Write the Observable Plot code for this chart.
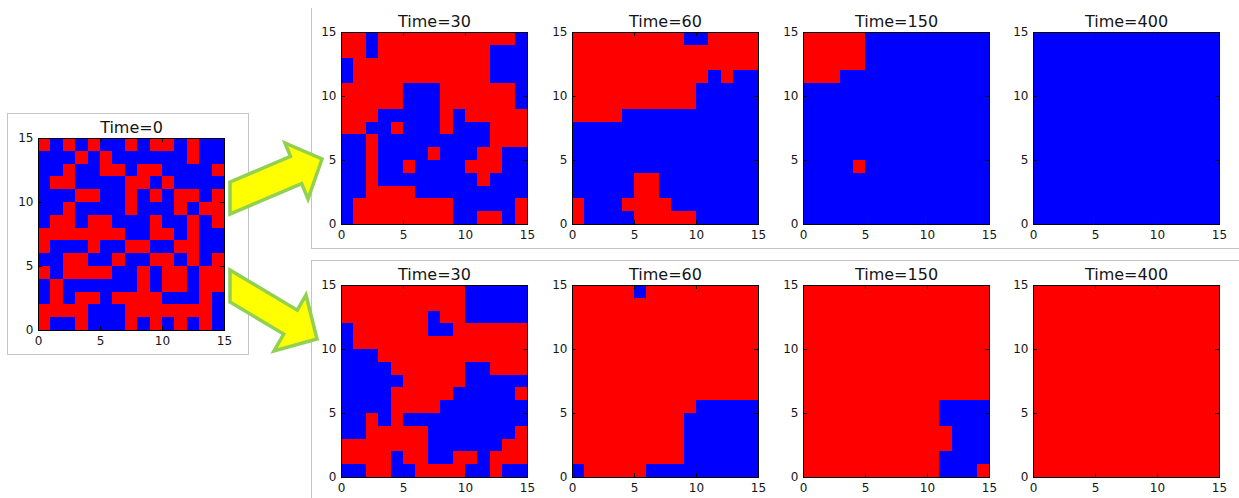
<!DOCTYPE html>
<html>
<head>
<meta charset="utf-8">
<script src="https://cdn.jsdelivr.net/npm/d3@7"></script>
<script src="https://cdn.jsdelivr.net/npm/@observablehq/plot@0.6"></script>
<style>
  html, body { margin: 0; padding: 0; background: #fff; }
  #stage { position: relative; width: 1239px; height: 498px; overflow: hidden; font-family: "DejaVu Sans", sans-serif; }
  .panel { position: absolute; }
  .group { position: absolute; box-sizing: border-box; border: 0 solid #c4c4c4; }
  #arrows { position: absolute; left: 0; top: 0; }
</style>
</head>
<body>
<div id="stage"></div>
<script>
// Axis ticks shared by every lattice panel
const tickValues = [0, 5, 10, 15];
// Spin states: R = red, B = blue
const stateDomain = ["R", "B"];
const stateColors = ["#ff0000", "#0000ff"];

// Each grid lists its rows from top (y = 14) to bottom (y = 0)
const gridStart = [
  "RBRBRBBRBRRBRBB",
  "BBBRBRBBBBBBRBB",
  "BBRBBRRBRRBBBBR",
  "BRRBBBBRRBRBBBB",
  "BBBRRBBRBRBRRBR",
  "BBRBBBBRBBBRBRR",
  "BRRBRRBBBRBBRBR",
  "RRRRRRRBBRRBRBB",
  "RBBBRBBRRBBRRBB",
  "BBRRBBRBBRRBRBR",
  "RBRRRRBBRBRRBRR",
  "BRBBBBBBRBRRBRR",
  "BRBRRBRRRRBBBRB",
  "RRRRBBBRRRRRRRB",
  "RBBRBBBRBRBRBRB"
];

// Run A (upper row)
const runA30 = [
  "RRBRRRRRRRRRRRB",
  "RRBRRRRRRRRRBBB",
  "BRRRRRRRRRRRBBB",
  "BRRRRRRRRRRRBBB",
  "RRRRRBBBRRRRRRB",
  "RRRRRBBBRRRRRRB",
  "RRRBBBBBRBRRRRR",
  "RRBBRBBBRBBBRRR",
  "BBRBBBBBBBBBRRR",
  "BBRBBBBRBBBRRBB",
  "BBRBBRBBBBRRRBB",
  "BBRBBBBBBBBRBBB",
  "BBRRRRBBBBBBBBB",
  "BRRRRRRRRBBBBBR",
  "BRRRRRRRRBBRRBR"
];
const runA60 = [
  "RRRRRRRRRBBRRRR",
  "RRRRRRRRRRRRRRR",
  "RRRRRRRRRRRRRRR",
  "RRRRRRRRRRRBRBB",
  "RRRRRRRRRRBBBBB",
  "RRRRRRRRRRBBBBB",
  "RRRRBBBBBBBBBBB",
  "BBBBBBBBBBBBBBB",
  "BBBBBBBBBBBBBBB",
  "BBBBBBBBBBBBBBB",
  "BBBBBBBBBBBBBBB",
  "BBBBBRRBBBBBBBB",
  "BBBBBRRBBBBBBBB",
  "RBBBRRRRBBBBBBB",
  "RBBBBRRRRRBBBBB"
];
const runA150 = [
  "RRRRRBBBBBBBBBB",
  "RRRRRBBBBBBBBBB",
  "RRRRRBBBBBBBBBB",
  "RRRBBBBBBBBBBBB",
  "BBBBBBBBBBBBBBB",
  "BBBBBBBBBBBBBBB",
  "BBBBBBBBBBBBBBB",
  "BBBBBBBBBBBBBBB",
  "BBBBBBBBBBBBBBB",
  "BBBBBBBBBBBBBBB",
  "BBBBRBBBBBBBBBB",
  "BBBBBBBBBBBBBBB",
  "BBBBBBBBBBBBBBB",
  "BBBBBBBBBBBBBBB",
  "BBBBBBBBBBBBBBB"
];
const runA400 = [
  "BBBBBBBBBBBBBBB",
  "BBBBBBBBBBBBBBB",
  "BBBBBBBBBBBBBBB",
  "BBBBBBBBBBBBBBB",
  "BBBBBBBBBBBBBBB",
  "BBBBBBBBBBBBBBB",
  "BBBBBBBBBBBBBBB",
  "BBBBBBBBBBBBBBB",
  "BBBBBBBBBBBBBBB",
  "BBBBBBBBBBBBBBB",
  "BBBBBBBBBBBBBBB",
  "BBBBBBBBBBBBBBB",
  "BBBBBBBBBBBBBBB",
  "BBBBBBBBBBBBBBB",
  "BBBBBBBBBBBBBBB"
];

// Run B (lower row)
const runB30 = [
  "RRRRRRRRRRBBBBB",
  "RRRRRRRRRRBBBBB",
  "RRRRRRRBRRBBBBB",
  "BRRRRRRBBRRRRRR",
  "BRRRRRRRRRRRRRR",
  "BBBRRRRRRRRRRRR",
  "BBBBRRRRRRBBRRR",
  "BBBBBRRRRRBBBBB",
  "BBBBRRRRRBBBBBR",
  "BBBBRRRRBBBBBBB",
  "BBRBRBBBBBBBBBB",
  "BBRRRRRBBBBBBBR",
  "RRRRRRRBBBBBBRR",
  "RRRRBRRBBRRBRRR",
  "BBRRBBRRRRBBRBB"
];
const runB60 = [
  "RRRRRBRRRRRRRRR",
  "RRRRRRRRRRRRRRR",
  "RRRRRRRRRRRRRRR",
  "RRRRRRRRRRRRRRR",
  "RRRRRRRRRRRRRRR",
  "RRRRRRRRRRRRRRR",
  "RRRRRRRRRRRRRRR",
  "RRRRRRRRRRRRRRR",
  "RRRRRRRRRRRRRRR",
  "RRRRRRRRRRBBBBB",
  "RRRRRRRRRBBBBBB",
  "RRRRRRRRRBBBBBB",
  "RRRRRRRRRBBBBBB",
  "RRRRRRRRRBBBBBB",
  "BRRRRRBBBBBBBBB"
];
const runB150 = [
  "RRRRRRRRRRRRRRR",
  "RRRRRRRRRRRRRRR",
  "RRRRRRRRRRRRRRR",
  "RRRRRRRRRRRRRRR",
  "RRRRRRRRRRRRRRR",
  "RRRRRRRRRRRRRRR",
  "RRRRRRRRRRRRRRR",
  "RRRRRRRRRRRRRRR",
  "RRRRRRRRRRRRRRR",
  "RRRRRRRRRRRBBBB",
  "RRRRRRRRRRRBBBB",
  "RRRRRRRRRRRRBBB",
  "RRRRRRRRRRRRBBB",
  "RRRRRRRRRRRBBBB",
  "RRRRRRRRRRRBBBR"
];
const runB400 = [
  "RRRRRRRRRRRRRRR",
  "RRRRRRRRRRRRRRR",
  "RRRRRRRRRRRRRRR",
  "RRRRRRRRRRRRRRR",
  "RRRRRRRRRRRRRRR",
  "RRRRRRRRRRRRRRR",
  "RRRRRRRRRRRRRRR",
  "RRRRRRRRRRRRRRR",
  "RRRRRRRRRRRRRRR",
  "RRRRRRRRRRRRRRR",
  "RRRRRRRRRRRRRRR",
  "RRRRRRRRRRRRRRR",
  "RRRRRRRRRRRRRRR",
  "RRRRRRRRRRRRRRR",
  "RRRRRRRRRRRRRRR"
];

const laterTimes = [30, 60, 150, 400];
const runA = [runA30, runA60, runA150, runA400];
const runB = [runB30, runB60, runB150, runB400];

const stage = document.getElementById("stage");

// Inner plot-area size and margins of a panel
const W = 186, H = 192, ML = 30, MR = 12, MT = 26, MB = 22;

function toCells(rows) {
  const n = rows.length;
  const cells = [];
  rows.forEach((row, i) => {
    [...row].forEach((s, j) => cells.push({col: j, row: n - 1 - i, s}));
  });
  return cells;
}

function panel(rows, time, plotLeft, plotTop) {
  const cells = toCells(rows);
  const chart = Plot.plot({
    width: W + ML + MR,
    height: H + MT + MB,
    marginLeft: ML, marginRight: MR, marginTop: MT, marginBottom: MB,
    style: {background: "none", fontFamily: "DejaVu Sans", fontSize: "12px", color: "#151515", overflow: "visible"},
    x: {domain: [0, 15], label: null},
    y: {domain: [0, 15], label: null},
    color: {domain: stateDomain, range: stateColors},
    marks: [
      Plot.rect(cells, {
        x1: "col", x2: d => d.col + 1,
        y1: "row", y2: d => d.row + 1,
        fill: "s", shapeRendering: "crispEdges"
      }),
      // inward-pointing ticks on all four sides
      Plot.tickX(tickValues, {x: d => d, insetTop: H - 4, stroke: "#000"}),
      Plot.tickX(tickValues, {x: d => d, insetBottom: H - 4, stroke: "#000"}),
      Plot.tickY(tickValues, {y: d => d, insetRight: W - 4, stroke: "#000"}),
      Plot.tickY(tickValues, {y: d => d, insetLeft: W - 4, stroke: "#000"}),
      Plot.frame({stroke: "#000", strokeWidth: 1}),
      Plot.axisX(tickValues, {tickSize: 0, tickPadding: 6}),
      Plot.axisY(tickValues, {tickSize: 0, tickPadding: 5}),
      Plot.text([`Time=${time}`], {frameAnchor: "top", dy: -6, lineAnchor: "bottom", fontSize: 16, fill: "#151515"})
    ]
  });
  chart.classList.add("panel");
  chart.style.left = (plotLeft - ML) + "px";
  chart.style.top = (plotTop - MT) + "px";
  stage.appendChild(chart);
}

function group(left, top, width, height, sides) {
  const d = document.createElement("div");
  d.className = "group";
  Object.assign(d.style, {left: left + "px", top: top + "px", width: width + "px", height: height + "px"});
  sides.forEach(s => d.style["border" + s + "Width"] = "1px");
  stage.appendChild(d);
}

// Group outlines
group(7, 113, 242, 242, ["Top", "Right", "Bottom", "Left"]);
group(311, 8, 940, 241, ["Left", "Bottom"]);
group(311, 260, 940, 250, ["Left", "Top"]);

// Initial configuration
panel(gridStart, 0, 38, 138);

// The two runs from the same start
const columnLefts = [341, 572, 803, 1033];
laterTimes.forEach((t, k) => {
  panel(runA[k], t, columnLefts[k], 32);
  panel(runB[k], t, columnLefts[k], 285);
});

// Arrows from the initial state to each run
const ns = "http://www.w3.org/2000/svg";
const arrows = document.createElementNS(ns, "svg");
arrows.setAttribute("id", "arrows");
arrows.setAttribute("width", 1239);
arrows.setAttribute("height", 498);
const arrowShapes = [
  "230,182 290.5,156.4 285,143 322,159 308,199 301.7,183.6 230,214",
  "230,270 297.3,310.2 306,295 317,339 274,351 283.7,334.1 230,302"
];
arrowShapes.forEach(pts => {
  const p = document.createElementNS(ns, "polygon");
  p.setAttribute("points", pts);
  p.setAttribute("fill", "#ffff00");
  p.setAttribute("stroke", "#92d050");
  p.setAttribute("stroke-width", "3.5");
  p.setAttribute("stroke-linejoin", "miter");
  arrows.appendChild(p);
});
stage.appendChild(arrows);
</script>
</body>
</html>
